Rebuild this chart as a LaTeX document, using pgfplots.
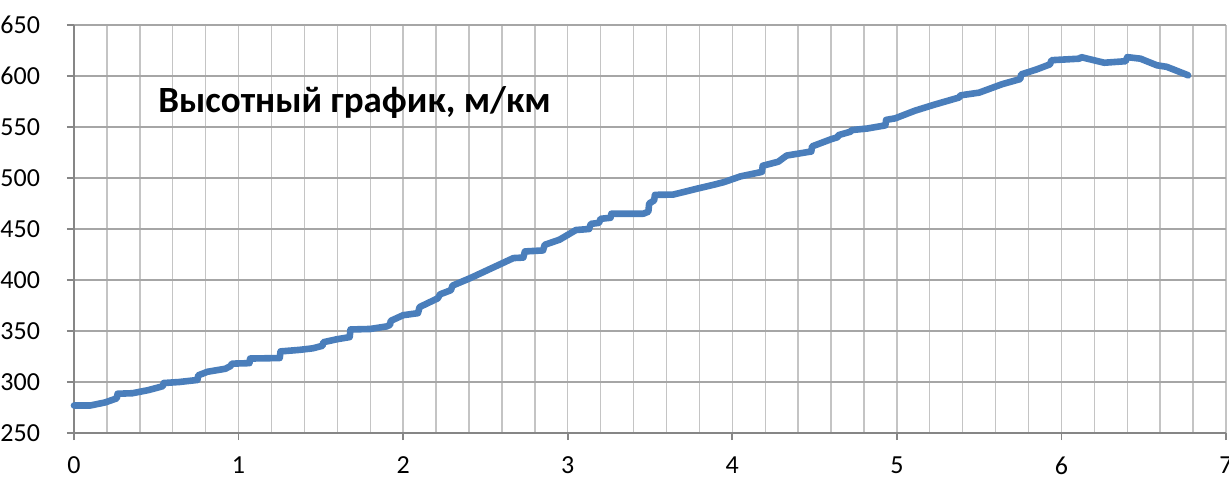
\documentclass[border=0pt]{standalone}
\usepackage{fontspec}
\setmainfont{Carlito}
\usepackage{pgfplots}
\pgfplotsset{compat=1.18}
\definecolor{lineblue}{HTML}{4A7EBB}
\definecolor{gridmaj}{HTML}{A6A6A6}
\definecolor{gridmin}{HTML}{C4C4C4}
\definecolor{axisgray}{HTML}{868686}
\begin{document}
\begin{tikzpicture}
\begin{axis}[
  scale only axis,
  width=576pt, height=204pt,
  xmin=0, xmax=7, ymin=250, ymax=650,
  xtick={0,1,...,7}, ytick={250,300,...,650},
  minor x tick num=4,
  xmajorgrids, xminorgrids, ymajorgrids,
  major grid style={gridmin, line width=0.7pt},
  minor grid style={gridmin, line width=0.7pt},
  y grid style={gridmaj, line width=0.9pt},
  axis line style={axisgray, line width=0.9pt},
  axis x line*=bottom, axis y line*=left,
  tick align=outside,
  major tick length=3.5pt,
  minor tick length=0pt,
  tick style={axisgray, line width=0.9pt},
  xticklabel style={font=\fontsize{13}{14}\selectfont, yshift=-5pt},
  yticklabel style={font=\fontsize{13}{14}\selectfont, xshift=-10pt},
  /pgf/number format/assume math mode=true,
  clip=false,
]
\addplot[lineblue, line width=3.3pt, line join=round, line cap=round] coordinates {
(0,277) (0.1,277) (0.19,280) (0.26,284) (0.265,288.5) (0.355,289) (0.45,292)
(0.52,295) (0.54,296) (0.545,299) (0.64,300) (0.75,302) (0.755,306.5) (0.81,310)
(0.92,313) (0.95,315.5) (0.96,318) (1.066,318.5) (1.07,323) (1.25,323.5)
(1.255,330) (1.37,331.5) (1.45,333) (1.51,335.5) (1.515,339) (1.6,342)
(1.675,344) (1.68,351.5) (1.8,352) (1.9,354.5) (1.92,356) (1.925,360)
(2.0,365.5) (2.09,367.5) (2.1,373.5) (2.21,382) (2.225,386) (2.29,390)
(2.3,394.5) (2.41,402) (2.53,411) (2.67,421.5) (2.73,422) (2.74,428)
(2.85,429) (2.86,434.5) (2.95,439.5) (3.05,449) (3.13,450) (3.14,455)
(3.19,456) (3.2,460) (3.26,461) (3.265,465) (3.46,465) (3.49,467)
(3.495,475) (3.525,478) (3.53,483.5) (3.64,483.7) (3.785,489.5)
(3.89,493.5) (3.95,496) (4.05,501.6) (4.18,506) (4.185,512) (4.28,516)
(4.33,522) (4.48,526) (4.485,531) (4.6,538) (4.64,540) (4.645,542)
(4.72,545.5) (4.725,547) (4.82,548.5) (4.93,551.6) (4.935,557) (4.99,558.5)
(5.11,566) (5.23,572) (5.38,579) (5.385,581) (5.5,583.7) (5.64,592)
(5.75,597) (5.755,601.5) (5.85,606.5) (5.93,611.4) (5.94,615.5) (6.11,617)
(6.12,618.5) (6.26,613) (6.39,614.5) (6.4,618.5) (6.48,617) (6.58,610.5)
(6.64,609) (6.77,600.7)
};
\node[anchor=west, inner sep=0pt, font=\fontsize{18.5}{20}\selectfont\bfseries] at (axis cs:0.51,574.5) {Высотный график, м/км};
\end{axis}
\pgfresetboundingbox
\useasboundingbox (-37pt,-25pt) rectangle (577.5pt,216.5pt);
\end{tikzpicture}
\end{document}
